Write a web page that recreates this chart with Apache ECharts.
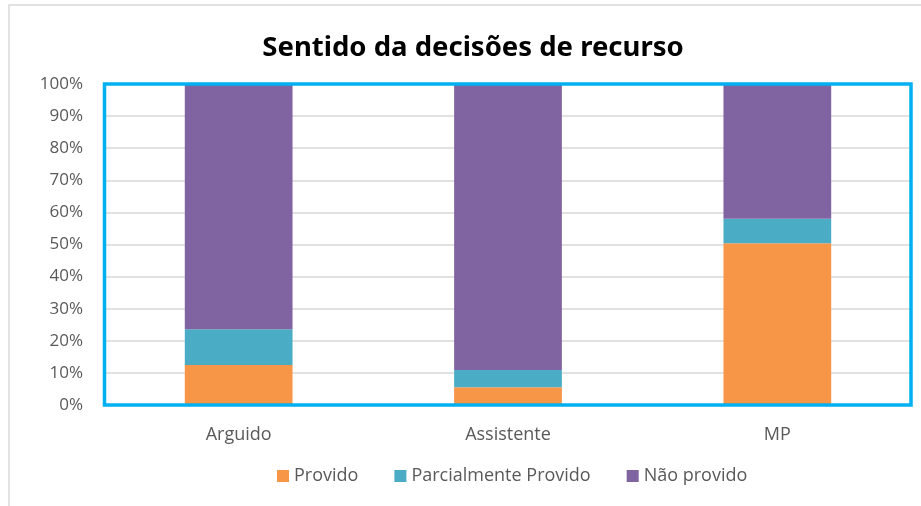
<!DOCTYPE html>
<html>
<head>
<meta charset="utf-8">
<script src="https://cdn.jsdelivr.net/npm/echarts@6/dist/echarts.min.js"></script>
<style>
  html, body { margin: 0; padding: 0; background: #fff; }
  #chart { width: 921px; height: 506px; }
</style>
</head>
<body>
<div id="chart"></div>
<script>
// categorias e percentagens
const categories = ['Arguido', 'Assistente', 'MP'];
const provido = [12.5, 5.5, 50.4];
const parcialmenteProvido = [11.1, 5.4, 7.6];
const naoProvido = [76.4, 89.1, 42.0];
const seriesNames = ['Provido', 'Parcialmente Provido', 'Não provido'];
const colors = ['#F79646', '#4BACC6', '#8064A2'];

const fontFamily = '"Open Sans", "Noto Sans", sans-serif';

let chart = echarts.init(document.getElementById('chart'));

let makeSeries = (name, data, color) => ({
  name: name,
  type: 'bar',
  stack: 'total',
  barWidth: '40%',
  itemStyle: { color: color },
  emphasis: { disabled: true },
  data: data
});

let option = {
  animation: false,
  color: colors,
  textStyle: { fontFamily: fontFamily },
  graphic: [
    {
      // moldura cinzenta do gráfico
      type: 'rect',
      shape: { x: 9, y: 5, width: 930, height: 520 },
      style: { fill: 'none', stroke: '#d9d9d9', lineWidth: 1.5 },
      silent: true
    },
    {
      // contorno azul da área de desenho
      type: 'rect',
      z: 100,
      shape: { x: 104.5, y: 84, width: 806.5, height: 321 },
      style: { fill: 'none', stroke: '#00B0F0', lineWidth: 3.5 },
      silent: true
    }
  ],
  title: {
    text: 'Sentido da decisões de recurso',
    left: 468,
    textAlign: 'center',
    top: 29,
    textStyle: {
      fontFamily: '"Noto Sans", sans-serif',
      fontWeight: 'bold',
      fontSize: 27.5,
      color: '#000'
    }
  },
  legend: {
    top: 462,
    left: 272,
    itemWidth: 12,
    itemHeight: 12,
    itemGap: 36,
    icon: 'rect',
    data: seriesNames,
    textStyle: { color: '#595959', fontSize: 18, fontFamily: fontFamily }
  },
  grid: {
    left: 104,
    right: 9,
    top: 84,
    bottom: 101
  },
  xAxis: {
    type: 'category',
    data: categories,
    axisLine: { show: true, lineStyle: { color: '#d9d9d9', width: 1 } },
    axisTick: { show: false },
    axisLabel: { color: '#595959', fontSize: 18, margin: 21 }
  },
  yAxis: {
    type: 'value',
    min: 0,
    max: 100,
    interval: 10,
    axisLine: { show: false },
    axisTick: { show: false },
    splitLine: { lineStyle: { color: '#d9d9d9', width: 1.5 } },
    axisLabel: {
      color: '#595959',
      fontSize: 17,
      margin: 21,
      formatter: '{value}%'
    }
  },
  series: [
    makeSeries(seriesNames[0], provido, colors[0]),
    makeSeries(seriesNames[1], parcialmenteProvido, colors[1]),
    makeSeries(seriesNames[2], naoProvido, colors[2])
  ]
};

option && chart.setOption(option);
</script>
</body>
</html>
